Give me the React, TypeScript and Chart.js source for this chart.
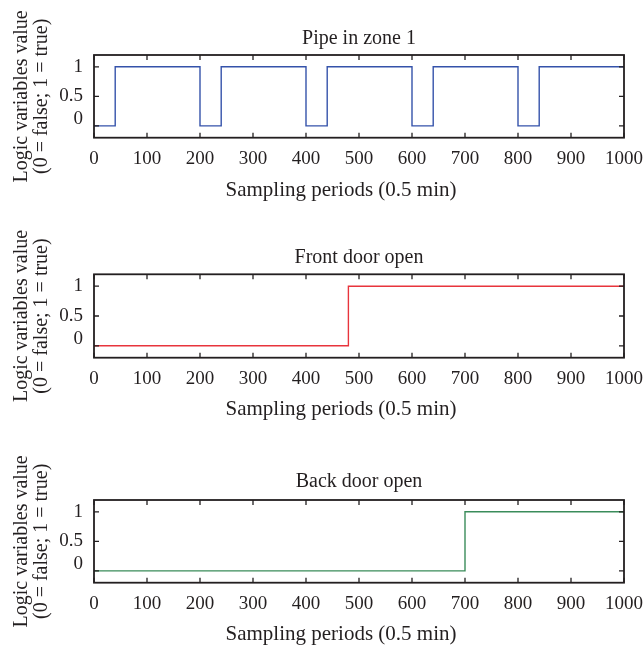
import React, { useEffect, useRef } from "react";
import { Chart, registerables } from "chart.js";

Chart.register(...registerables);

// ---- Data ----
const pipeX = [0, 40, 200, 240, 400, 440, 600, 640, 800, 840, 1000];
const pipeY = [0, 1, 0, 1, 0, 1, 0, 1, 0, 1, 1];
const frontX = [0, 480, 1000];
const frontY = [0, 1, 1];
const backX = [0, 700, 1000];
const backY = [0, 1, 1];
const yTickValues = [0, 0.5, 1];
const titles = ["Pipe in zone 1", "Front door open", "Back door open"];
const xAxisTitle = "Sampling periods (0.5 min)";
const yAxisTitle = ["Logic variables value", "(0 = false; 1 = true)"];

const FONT = "'Liberation Serif', 'Times New Roman', serif";
const TEXT = "#231f20";

type Panel = {
  title: string;
  xs: number[];
  ys: number[];
  color: string;
  titleY: number;
  areaTop: number;
  areaBottom: number;
  xlabelY: number;
};

const panels: Panel[] = [
  { title: titles[0], xs: pipeX, ys: pipeY, color: "rgb(52,82,170)", titleY: 39, areaTop: 55, areaBottom: 137.7, xlabelY: 190 },
  { title: titles[1], xs: frontX, ys: frontY, color: "rgb(232,52,60)", titleY: 258, areaTop: 274.3, areaBottom: 357.7, xlabelY: 409 },
  { title: titles[2], xs: backX, ys: backY, color: "rgb(58,140,90)", titleY: 482, areaTop: 500, areaBottom: 582.7, xlabelY: 634 },
];

const W = 643;
const H = 650;

const boxTicks = {
  id: "boxTicks",
  afterDatasetsDraw(chart: any) {
    const { ctx, chartArea, scales } = chart;
    const { left, right, top, bottom } = chartArea;
    const x = scales.x;
    const y = scales.y;
    const len = 5;
    ctx.save();
    ctx.strokeStyle = TEXT;
    ctx.lineWidth = 1.3;
    ctx.beginPath();
    x.ticks.forEach((t: any) => {
      const px = x.getPixelForValue(t.value);
      ctx.moveTo(px, bottom);
      ctx.lineTo(px, bottom - len);
      ctx.moveTo(px, top);
      ctx.lineTo(px, top + len);
    });
    y.ticks.forEach((t: any) => {
      const py = y.getPixelForValue(t.value);
      ctx.moveTo(left, py);
      ctx.lineTo(left + len, py);
      ctx.moveTo(right, py);
      ctx.lineTo(right - len, py);
    });
    ctx.stroke();
    ctx.lineWidth = 1.8;
    ctx.strokeRect(left, top, right - left, bottom - top);
    ctx.restore();
  },
};

// x-axis title, drawn slightly left of the plot centre as in the reference
const xTitlePlugin = {
  id: "xTitlePlugin",
  afterDraw(chart: any, _args: any, opts: any) {
    const { ctx, chartArea } = chart;
    ctx.save();
    ctx.fillStyle = TEXT;
    ctx.font = `21px ${FONT}`;
    ctx.textAlign = "center";
    ctx.textBaseline = "middle";
    ctx.fillText(opts.text, (chartArea.left + chartArea.right) / 2 - 18, opts.y);
    ctx.restore();
  },
};

function PanelChart({ p }: { p: Panel }) {
  const ref = useRef<HTMLCanvasElement | null>(null);
  useEffect(() => {
    if (!ref.current) return;
    const titleLH = 24;
    const padTop = p.titleY - titleLH / 2;
    const titleBottomPad = p.areaTop - padTop - titleLH;
    const scaleBottom = p.xlabelY + 12;
    const padBottom = H - scaleBottom;
    const xHeight = scaleBottom - p.areaBottom;
    const chart = new Chart(ref.current, {
      type: "line",
      data: {
        datasets: [
          {
            data: p.xs.map((x, i) => ({ x, y: p.ys[i] })),
            borderColor: p.color,
            borderWidth: 1.4,
            pointRadius: 0,
            stepped: "before",
            fill: false,
          },
        ],
      },
      options: {
        animation: false,
        responsive: false,
        devicePixelRatio: 1,
        layout: { padding: { top: padTop, bottom: padBottom, left: 0, right: 19 } },
        plugins: {
          legend: { display: false },
          tooltip: { enabled: false },
          title: {
            display: true,
            fullSize: false,
            text: p.title,
            color: TEXT,
            font: { family: FONT, size: 20, weight: "normal", lineHeight: "24px" },
            padding: { top: 0, bottom: titleBottomPad },
          },
          xTitlePlugin: { text: xAxisTitle, y: p.xlabelY },
        },
        scales: {
          x: {
            type: "linear",
            min: 0,
            max: 1000,
            grid: { display: false, drawTicks: false },
            border: { display: false },
            ticks: {
              stepSize: 100,
              padding: 10,
              maxRotation: 0,
              autoSkip: false,
              color: TEXT,
              callback: (v: any) => String(v),
              font: { family: FONT, size: 19, lineHeight: 1.2 },
            },
            title: { display: false },
            afterFit: (s: any) => {
              s.height = xHeight;
              s.paddingLeft = 0;
              s.paddingRight = 0;
            },
          },
          y: {
            type: "linear",
            min: -0.2,
            max: 1.2,
            grid: { display: false, drawTicks: false },
            border: { display: false },
            afterBuildTicks: (s: any) => {
              s.ticks = yTickValues.map((v) => ({ value: v }));
            },
            ticks: {
              padding: 11,
              color: TEXT,
              callback: (v: any) => (Number(v) === 0 ? ["0", ""] : String(v)),
              font: (c: any) =>
                c.tick && c.tick.value === 0
                  ? { family: FONT, size: 19, lineHeight: "13px" }
                  : { family: FONT, size: 19, lineHeight: 1.2 },
            },
            title: {
              display: true,
              text: yAxisTitle,
              color: TEXT,
              font: { family: FONT, size: 20, lineHeight: "20px" },
              padding: { top: 12, bottom: 0 },
            },
            afterFit: (s: any) => {
              s.width = 94;
              s.paddingTop = 0;
              s.paddingBottom = 0;
            },
          },
        },
      } as any,
      plugins: [boxTicks, xTitlePlugin],
    });
    return () => chart.destroy();
  }, [p]);
  return (
    <canvas
      ref={ref}
      width={W}
      height={H}
      style={{ position: "absolute", left: 0, top: 0, width: W, height: H }}
    />
  );
}

export default function App() {
  return (
    <div style={{ position: "absolute", left: 0, top: 0, width: W, height: H, background: "#fff" }}>
      {panels.map((p, i) => (
        <PanelChart key={i} p={p} />
      ))}
    </div>
  );
}
